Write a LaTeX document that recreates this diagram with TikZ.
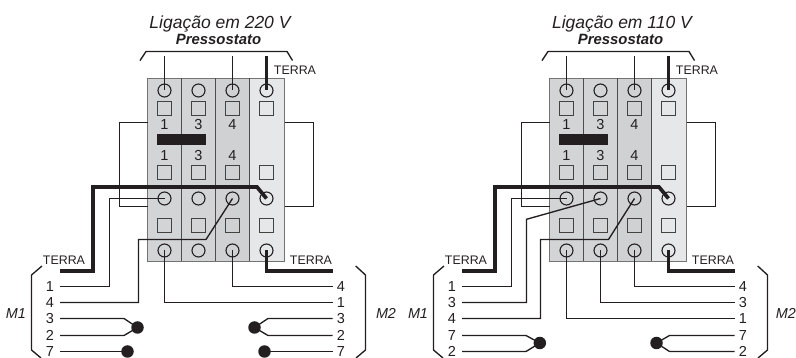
\documentclass[tikz,border=0pt]{standalone}
\usepackage{fontspec}
\setmainfont{Liberation Sans}
\definecolor{ink}{HTML}{231F20}
\definecolor{panelA}{HTML}{D3D4D6}
\definecolor{panelC}{HTML}{D0D1D3}
\definecolor{panelB}{HTML}{E6E7E8}
\tikzset{
  wire/.style={draw=ink,line width=1.35pt,line join=miter},
  fatwire/.style={draw=ink,line width=3.7pt,line join=miter},
  term/.style={circle,draw=ink,line width=1.1pt,minimum size=13pt,inner sep=0pt},
  sq/.style={rectangle,draw=ink!85,line width=1.1pt,minimum size=14.5pt,inner sep=0pt},
  dot/.style={circle,fill=ink,minimum size=12.5pt,inner sep=0pt},
  lab/.style={anchor=base,inner sep=0pt,text=ink,font=\fontsize{14.5}{15}\selectfont},
  terra/.style={anchor=base,inner sep=0pt,text=ink,font=\fontsize{12.4}{13}\selectfont},
  mlab/.style={anchor=base,inner sep=0pt,text=ink,font=\fontsize{14.4}{15}\selectfont\itshape},
  titlelab/.style={anchor=base,inner sep=0pt,text=ink,font=\fontsize{17.5}{18}\selectfont\itshape},
  subtitle/.style={anchor=base,inner sep=0pt,text=ink,font=\fontsize{14.9}{15}\selectfont\bfseries\itshape},
}
% common frame of one wiring diagram; #1 prefix, #2 voltage text, #3 x of M2
\newcommand{\UnitFrame}[3]{%
  \fill[panelA] (147.5,78.5) rectangle (250,261.5);
  \fill[panelB] (250,78.5) rectangle (284.5,261.5);
  \fill[panelC] (215.5,78.5) rectangle (250,261.5);
  \draw[gray!90!black,line width=1.2pt] (147.5,78.5) rectangle (284.5,261.5);
  \foreach \xx in {181.5,215.5,249.5}{\draw[ink!80,line width=1.1pt] (\xx,78.5) -- (\xx,261.5);}
  \fill[ink] (157,134) rectangle (206,145);
  \foreach \cc/\xx in {1/164.5,2/198.5,3/232.5,4/266.5}{
    \node[term] (#1t\cc) at (\xx,90.5) {};
    \node[term] (#1m\cc) at (\xx,198.5) {};
    \node[term] (#1b\cc) at (\xx,250.5) {};
    \node[sq] (#1sa\cc) at (\xx,108.5) {};
    \node[sq] (#1sb\cc) at (\xx,172.5) {};
    \node[sq] (#1sc\cc) at (\xx,225.5) {};
  }
  \foreach \cc/\xx/\tt in {1/164.5/1,2/198.5/3,3/232.5/4}{
    \node[lab] (#1la\cc) at (\xx,130) {\tt};
    \node[lab] (#1lb\cc) at (\xx,160.5) {\tt};
  }
  \node[titlelab] (#1title) at (220,28.3) {Ligação em #2 V};
  \node[subtitle] (#1sub) at (218.5,45) {Pressostato};
  \node[terra] (#1terraT) at (295,75) {TERRA};
  \node[terra] (#1terraL) at (64,264.7) {TERRA};
  \node[terra] (#1terraR) at (311,264.7) {TERRA};
  \node[mlab] (#1M1) at (16,319) {M1};
  \node[mlab] (#1M2) at (#3,319) {M2};
  \draw[wire] (140,60.6) -- (146,51.5) -- (287,51.5) -- (292.5,60.5);
  \draw[wire] (42,266) -- (31.5,275) -- (31.5,350) -- (41,358);
  \draw[wire] (355.7,266) -- (365.5,275) -- (365.5,350) -- (356,358);
  \coordinate (#1n1) at (164.5,56); \coordinate (#1n3) at (232.5,56); \coordinate (#1n4) at (266.5,56);
  \draw[wire] (#1n1) -- (#1t1.center);
  \draw[wire] (#1n3) -- (#1t3.center);
  \draw[fatwire,line width=2.1pt] (#1n4) -- (#1t4.center);
  \draw[wire] (147.5,122.5) -- (119.5,122.5) -- (119.5,206.5) -- (147.5,206.5);
  \draw[wire] (284.5,122.5) -- (313.5,122.5) -- (313.5,206.5) -- (284.5,206.5);
  \coordinate (#1eL) at (60,271); \coordinate (#1eR) at (332.5,271);
  \draw[fatwire] (#1eL) -- (93,271) -- (93,187) -- (257,187) -- (#1m4.center);
  \draw[fatwire] (#1b4.center) |- (#1eR);
}
\newcommand{\Row}[4]{% prefix, tag, y, text
  \node[lab] (#1l#2) at (50,#3+4.8) {#4};
  \coordinate (#1l#2e) at (60,#3);
}
\newcommand{\Rowr}[4]{%
  \node[lab] (#1r#2) at (341,#3+4.8) {#4};
  \coordinate (#1r#2e) at (332.5,#3);
}
\begin{document}
\begin{tikzpicture}[x=1pt,y=-1pt]
\useasboundingbox (0,0) rectangle (796,358);
% ---- 220 V
\begin{scope}
  \UnitFrame{A}{220}{386}
  \Row{A}{a}{286.5}{1}\Row{A}{b}{302.5}{4}\Row{A}{c}{318.5}{3}\Row{A}{d}{335.5}{2}\Row{A}{e}{351.5}{7}
  \Rowr{A}{a}{286.5}{4}\Rowr{A}{b}{302.5}{1}\Rowr{A}{c}{318.5}{3}\Rowr{A}{d}{335.5}{2}\Rowr{A}{e}{351.5}{7}
  \draw[wire] (Alae) -- (109.5,286.5) -- (109.5,198.5) -- (Am1.center);
  \draw[wire] (Albe) -- (138.5,302.5) -- (138.5,239.5) -- (206,239.5) -- (Am3.center);
  \draw[wire] (Ab1.center) |- (Arbe);
  \draw[wire] (Ab3.center) |- (Arae);
  \node[dot] (Adl) at (137.5,327.5) {};
  \node[dot] (Ade) at (127.5,351.5) {};
  \node[dot] (Adr) at (254.5,327.5) {};
  \node[dot] (Adf) at (264.5,351.5) {};
  \draw[wire] (Alce) -- (124,318.5) -- (Adl.center);
  \draw[wire] (Alde) -- (124,335.5) -- (Adl.center);
  \draw[wire] (Alee) -- (Ade.center);
  \draw[wire] (Arce) -- (268,318.5) -- (Adr.center);
  \draw[wire] (Arde) -- (268,335.5) -- (Adr.center);
  \draw[wire] (Aree) -- (Adf.center);
\end{scope}
% ---- 110 V
\begin{scope}[xshift=402pt]
  \UnitFrame{B}{110}{383.9}
  \Row{B}{a}{286.5}{1}\Row{B}{b}{302.5}{3}\Row{B}{c}{318.5}{4}\Row{B}{d}{335.5}{7}\Row{B}{e}{351.5}{2}
  \Rowr{B}{a}{286.5}{4}\Rowr{B}{b}{302.5}{3}\Rowr{B}{c}{318.5}{1}\Rowr{B}{d}{335.5}{7}\Rowr{B}{e}{351.5}{2}
  \draw[wire] (Blae) -- (109.5,286.5) -- (109.5,198.5) -- (Bm1.center);
  \draw[wire] (Blbe) -- (124.5,302.5) -- (124.5,219.3) -- (Bm2.center);
  \draw[wire] (Blce) -- (138.5,318.5) -- (138.5,239.5) -- (206.5,239.5) -- (Bm3.center);
  \draw[wire] (Bb1.center) |- (Brce);
  \draw[wire] (Bb2.center) |- (Brbe);
  \draw[wire] (Bb3.center) |- (Brae);
  \node[dot] (Bdl) at (137.8,343) {};
  \node[dot] (Bdr) at (254.5,343) {};
  \draw[wire] (Blde) -- (124,335.5) -- (Bdl.center);
  \draw[wire] (Blee) -- (124,351.5) -- (Bdl.center);
  \draw[wire] (Brde) -- (267.5,335.5) -- (Bdr.center);
  \draw[wire] (Bree) -- (267.5,351.5) -- (Bdr.center);
\end{scope}
\end{tikzpicture}
\end{document}
